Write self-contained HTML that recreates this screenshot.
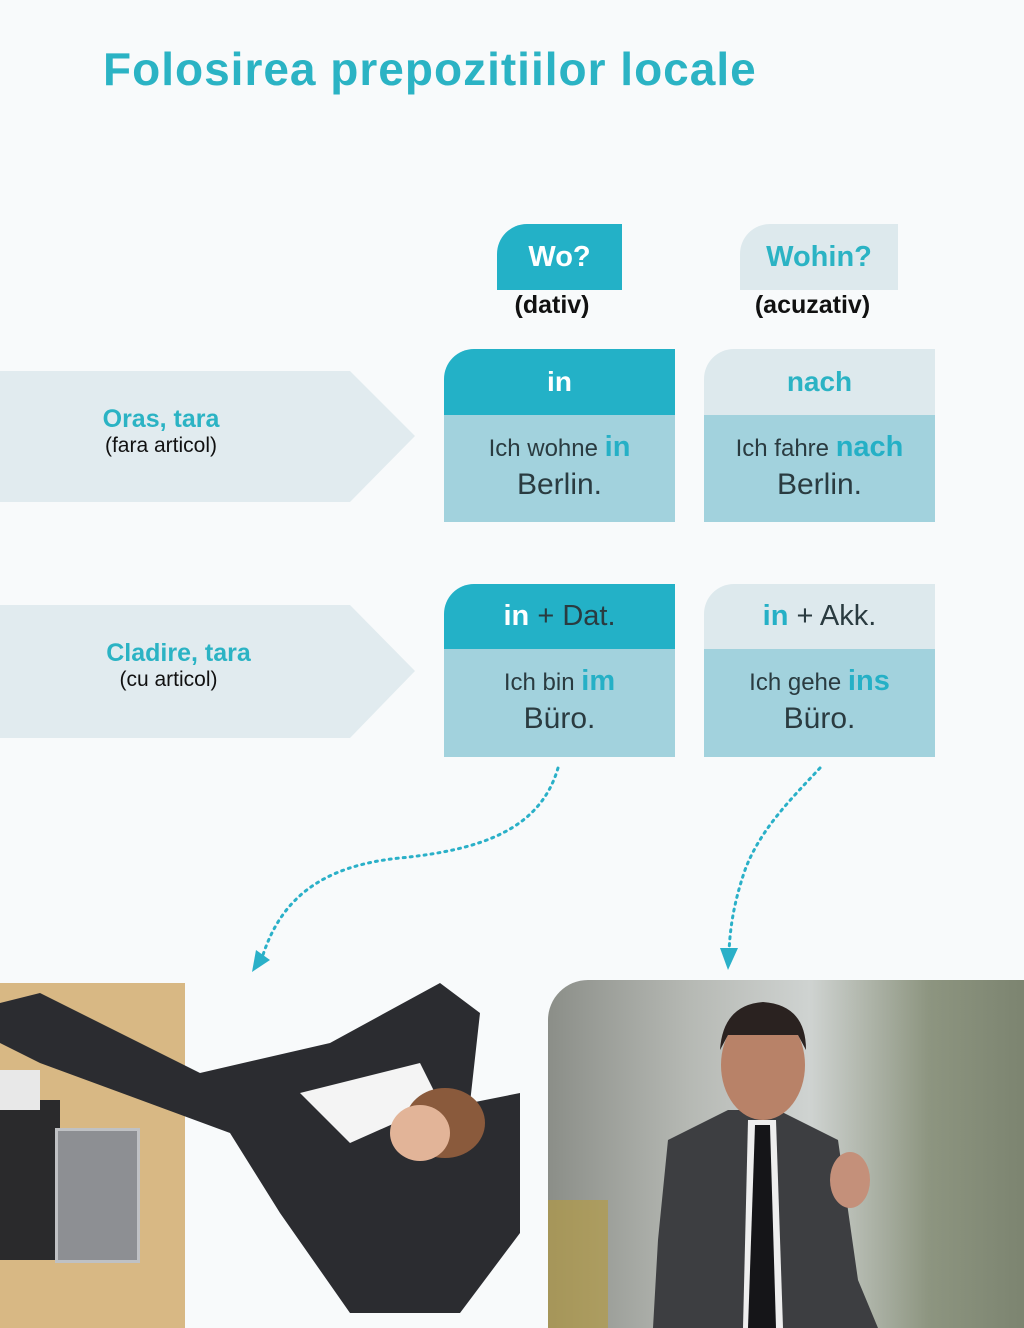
<!DOCTYPE html>
<html><head><meta charset="utf-8"><style>
*{margin:0;padding:0;box-sizing:border-box}
body{width:1024px;height:1328px;background:#f8fafb;position:relative;overflow:hidden;font-family:"Liberation Sans",sans-serif}
.a{position:absolute}
.t{color:#2bb3c4;font-weight:bold}
.hd{position:absolute;display:flex;align-items:center;justify-content:center;font-size:28px}
.dk{background:#23b1c7;color:#fff;border-top-left-radius:30px}
.lt{background:#dde9ed;color:#2bb3c4;border-top-left-radius:30px}
.bd{position:absolute;background:#a2d2dd;color:#2a3b40;text-align:center;font-size:24px;line-height:36px;padding-top:14px}
.bd b{color:#25b0c6;font-size:29px}
.bd .big{font-size:30px}
.c{position:absolute;text-align:center;color:#111;font-size:21px}
</style></head><body>
<div class="a t" style="left:103px;top:42px;font-size:46px;letter-spacing:1px">Folosirea prepozitiilor locale</div>

<div class="hd dk" style="left:497px;top:224px;width:125px;height:66px;font-weight:bold;font-size:29px">Wo?</div>
<div class="hd lt" style="left:740px;top:224px;width:158px;height:66px;font-weight:bold;font-size:29px">Wohin?</div>
<div class="c" style="left:497px;top:291px;width:110px;font-weight:bold;font-size:25px">(dativ)</div>
<div class="c" style="left:740px;top:291px;width:145px;font-weight:bold;font-size:25px">(acuzativ)</div>

<svg class="a" style="left:0;top:0" width="1024" height="1328">
<polygon points="0,371 350,371 415,436 350,502 0,502" fill="#e1ebef"/>
<polygon points="0,605 350,605 415,671 350,738 0,738" fill="#e1ebef"/>
<path d="M558,768 C540,830 480,850 400,858 C320,866 280,900 262,958" fill="none" stroke="#2ab0c8" stroke-width="3" stroke-dasharray="2,5" stroke-linecap="round"/>
<polygon points="252,972 256,950 270,960" fill="#2ab0c8"/>
<path d="M820,768 C790,800 760,830 745,870 C733,905 730,930 729,952" fill="none" stroke="#2ab0c8" stroke-width="3" stroke-dasharray="2,5" stroke-linecap="round"/>
<polygon points="728,970 720,948 738,948" fill="#2ab0c8"/>
</svg>

<div class="a" style="left:0;top:405px;width:322px;text-align:center"><div class="t" style="font-size:25px">Oras, tara</div><div style="font-size:21px;color:#111">(fara articol)</div></div>
<div class="a" style="left:0;top:639px;width:357px;text-align:center"><div class="t" style="font-size:25px">Cladire, tara</div><div style="font-size:21px;color:#111;padding-right:20px">(cu articol)</div></div>

<div class="hd dk" style="left:444px;top:349px;width:231px;height:66px;font-weight:bold">in</div>
<div class="bd" style="left:444px;top:415px;width:231px;height:107px">Ich wohne <b>in</b><br><span class="big">Berlin.</span></div>
<div class="hd lt" style="left:704px;top:349px;width:231px;height:66px;font-weight:bold">nach</div>
<div class="bd" style="left:704px;top:415px;width:231px;height:107px">Ich fahre <b>nach</b><br><span class="big">Berlin.</span></div>

<div class="hd dk" style="left:444px;top:584px;width:231px;height:65px;color:#2a3b40;font-size:29px"><b style="color:#fff">in</b>&nbsp;+ Dat.</div>
<div class="bd" style="left:444px;top:649px;width:231px;height:108px">Ich bin <b>im</b><br><span class="big">Büro.</span></div>
<div class="hd lt" style="left:704px;top:584px;width:231px;height:65px;color:#2a3b40;font-size:29px"><b style="color:#25b0c6">in</b>&nbsp;+ Akk.</div>
<div class="bd" style="left:704px;top:649px;width:231px;height:108px">Ich gehe <b>ins</b><br><span class="big">Büro.</span></div>

<!-- left photo -->
<div class="a" style="left:0;top:983px;width:185px;height:345px;background:#d8b884"></div>
<div class="a" style="left:0;top:1100px;width:60px;height:160px;background:#2a2a2c"></div>
<div class="a" style="left:55px;top:1128px;width:85px;height:135px;background:#8d8f93;border:3px solid #bfc1c4"></div>
<div class="a" style="left:0;top:1070px;width:40px;height:40px;background:#e8e8e8"></div>
<svg class="a" style="left:0;top:983px" width="540" height="345">
<polygon points="0,20 40,10 200,90 330,60 440,0 480,30 470,120 520,110 520,250 460,330 350,330 280,230 230,150 40,80 0,60" fill="#2b2c30"/>
<polygon points="300,110 420,80 440,120 350,160" fill="#f4f4f4"/>
<ellipse cx="445" cy="140" rx="40" ry="35" fill="#8a5a3c"/>
<ellipse cx="420" cy="150" rx="30" ry="28" fill="#e2b498"/>
</svg>
<!-- right photo -->
<div class="a" style="left:548px;top:980px;width:476px;height:348px;border-top-left-radius:40px;background:linear-gradient(90deg,#8b8e88 0%,#b6b9b4 30%,#cfd3d1 55%,#8d9580 80%,#7c8470 100%)"></div>
<div class="a" style="left:548px;top:1200px;width:60px;height:128px;background:#b89b3a;opacity:.6"></div>
<svg class="a" style="left:548px;top:980px" width="476" height="348">
<polygon points="120,160 180,130 230,130 290,160 310,300 330,348 105,348 110,260" fill="#3d3e41"/>
<polygon points="200,140 228,140 235,348 195,348" fill="#eeeeee"/>
<polygon points="207,145 222,145 228,348 200,348" fill="#151518"/>
<ellipse cx="215" cy="85" rx="42" ry="55" fill="#b88268"/>
<path d="M172,70 Q175,25 215,22 Q258,25 258,70 L250,55 L180,55 Z" fill="#2a2220"/>
<ellipse cx="302" cy="200" rx="20" ry="28" fill="#c4907a"/>
</svg>
</body></html>
